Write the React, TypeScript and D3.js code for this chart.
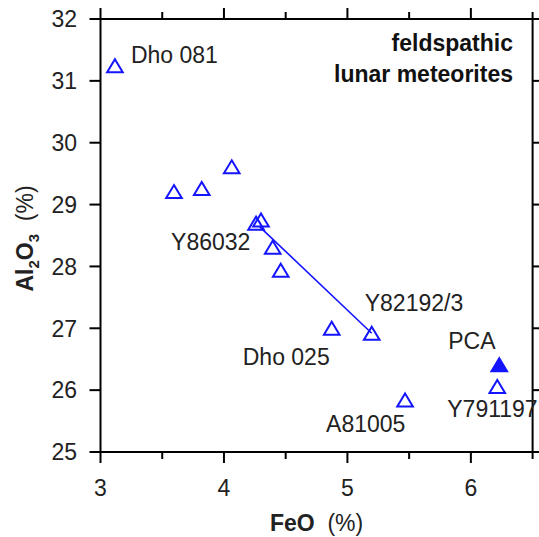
import React from "react";
import * as d3 from "d3";

const feo = [3.117, 3.595, 3.82, 4.063, 4.26, 4.3, 4.395, 4.46, 4.873, 5.197, 5.467, 6.214];
const al2o3 = [31.245, 29.21, 29.26, 29.61, 28.7, 28.75, 28.31, 27.94, 27.0, 26.92, 25.84, 26.06];
const pointNames = ["Dho 081", "", "", "", "Y86032", "", "", "", "Dho 025", "Y82192/3", "A81005", "Y791197"];
const pcaFeo = [6.23];
const pcaAl = [26.41];
const pcaNames = ["PCA"];
const lineFeo = [4.29, 5.197];
const lineAl = [28.64, 26.92];
const xMajor = [3, 4, 5, 6];
const xMinor = [3.5, 4.5, 5.5, 6.5];
const yMajor = [25, 26, 27, 28, 29, 30, 31, 32];

// label offsets in px relative to point (layout only)
const labelOffsets: Record<string, [number, number]> = {
  "Dho 081": [16, -3],
  "Y86032": [-85, 27],
  "Dho 025": [-89, 37],
  "Y82192/3": [-7, -22],
  "A81005": [-79, 32],
  "Y791197": [-50, 31],
  "PCA": [-51, -16],
};

const W = 539;
const H = 537;
const FONT = "'Liberation Sans', Arial, Helvetica, sans-serif";
const BLUE = "#1414ff";

export default function App() {
  const x = d3.scaleLinear().domain([3, 6.5]).range([100.5, 532.6]);
  const y = d3.scaleLinear().domain([25, 32]).range([452, 19]);
  const left = x(3);
  const right = x(6.5);
  const top = y(32);
  const bottom = y(25);
  const major = 11;
  const minor = 7;
  const tri = (cx: number, cy: number) => {
    const hw = 7.8;
    const h = 13;
    return `M${cx},${cy - h / 2} L${cx + hw},${cy + h / 2} L${cx - hw},${cy + h / 2} Z`;
  };
  const line = d3.line<number>().x((d, i) => x(lineFeo[i])).y((d, i) => y(lineAl[i]));

  return (
    <svg width={W} height={H} style={{ position: "absolute", left: 0, top: 0, background: "#fff" }} fontFamily={FONT}>
      <rect width={W} height={H} fill="#fff" />
      {/* axes */}
      <g stroke="#000" strokeWidth={2} fill="none">
        <line x1={left} x2={right} y1={top} y2={top} />
        <line x1={left} x2={right} y1={bottom} y2={bottom} />
        <line x1={left} x2={left} y1={top} y2={bottom} />
        <line x1={right} x2={right} y1={top} y2={bottom} />
        {xMajor.map((v) => (
          <g key={"xm" + v}>
            <line x1={x(v)} x2={x(v)} y1={bottom} y2={bottom + major} />
            <line x1={x(v)} x2={x(v)} y1={top} y2={top - major} />
          </g>
        ))}
        {xMinor.map((v) => (
          <g key={"xn" + v}>
            <line x1={x(v)} x2={x(v)} y1={bottom} y2={bottom + minor} />
            <line x1={x(v)} x2={x(v)} y1={top} y2={top - minor} />
          </g>
        ))}
        {yMajor.map((v) => (
          <g key={"ym" + v}>
            <line x1={left - major} x2={left} y1={y(v)} y2={y(v)} />
            <line x1={right} x2={right + major} y1={y(v)} y2={y(v)} />
          </g>
        ))}
      </g>
      {/* tick labels */}
      <g fontSize={23} fill="#222">
        {xMajor.map((v) => (
          <text key={"xl" + v} x={x(v)} y={495.5} textAnchor="middle">
            {v}
          </text>
        ))}
        {yMajor.map((v) => (
          <text key={"yl" + v} x={77} y={y(v)} dy="0.36em" textAnchor="end">
            {v}
          </text>
        ))}
      </g>
      {/* axis titles */}
      <text x={(left + right) / 2} y={531} textAnchor="middle" fontSize={23} fill="#222">
        <tspan fontWeight="bold">FeO</tspan>
        <tspan xmlSpace="preserve">{"  (%)"}</tspan>
      </text>
      <text transform={`translate(33,${(top + bottom) / 2 + 3}) rotate(-90)`} textAnchor="middle" fontSize={23} fill="#222">
        <tspan fontWeight="bold">Al</tspan>
        <tspan fontSize={15} dy={6} fontWeight="bold">2</tspan>
        <tspan fontWeight="bold" dy={-6}>O</tspan>
        <tspan fontSize={15} dy={6} fontWeight="bold">3</tspan>
        <tspan dy={-6}>{"\u00a0\u00a0(%)"}</tspan>
      </text>
      {/* title */}
      <g fontSize={23} fontWeight="bold" fill="#111" textAnchor="end">
        <text x={513} y={51}>feldspathic</text>
        <text x={513} y={82}>lunar meteorites</text>
      </g>
      {/* mixing line */}
      <path d={line(lineFeo) || ""} stroke={BLUE} strokeWidth={1.6} fill="none" />
      {/* points */}
      {feo.map((v, i) => (
        <path key={"p" + i} d={tri(x(v), y(al2o3[i]))} fill="none" stroke={BLUE} strokeWidth={2} strokeLinejoin="miter" />
      ))}
      {pcaFeo.map((v, i) => (
        <path key={"pca" + i} d={tri(x(v), y(pcaAl[i]))} fill={BLUE} stroke={BLUE} strokeWidth={2} />
      ))}
      {/* labels */}
      <g fontSize={23} fill="#222">
        {feo.map((v, i) =>
          pointNames[i] ? (
            <text key={"lb" + i} x={x(v) + labelOffsets[pointNames[i]][0]} y={y(al2o3[i]) + labelOffsets[pointNames[i]][1]}>
              {pointNames[i]}
            </text>
          ) : null
        )}
        {pcaFeo.map((v, i) => (
          <text key={"lpca" + i} x={x(v) + labelOffsets[pcaNames[i]][0]} y={y(pcaAl[i]) + labelOffsets[pcaNames[i]][1]}>
            {pcaNames[i]}
          </text>
        ))}
      </g>
    </svg>
  );
}
